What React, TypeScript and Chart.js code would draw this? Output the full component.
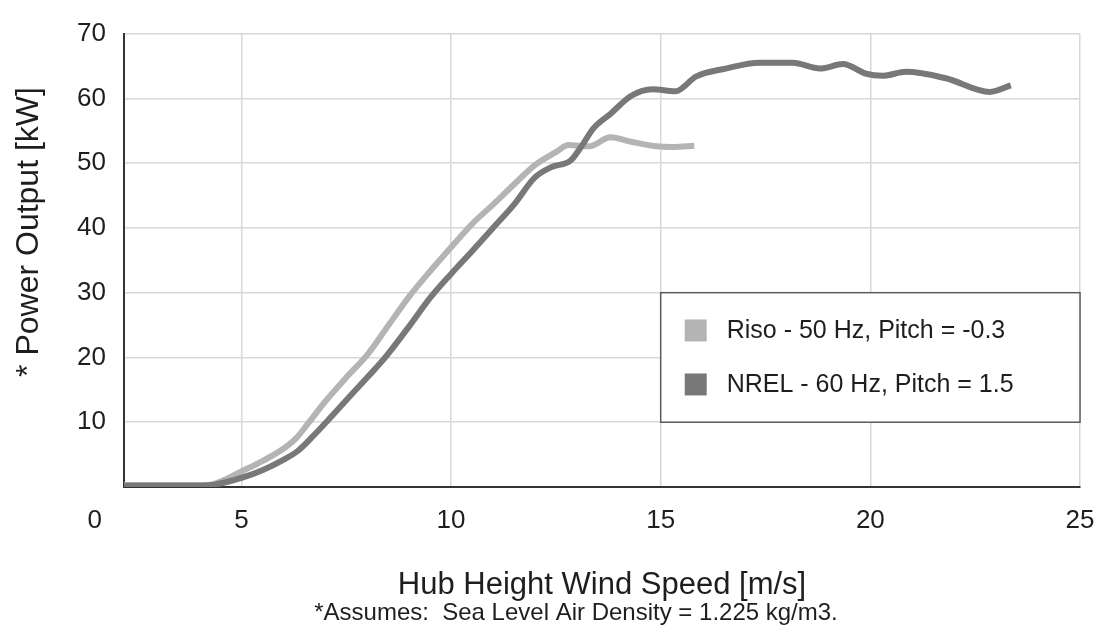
import React, { useEffect, useRef } from "react";
import { Chart, registerables } from "chart.js";

Chart.register(...registerables);

// ---- data ----
const risoSpeed = [2.2, 3.0, 4.0, 4.3, 4.6, 5.0, 5.5, 6.0, 6.3, 6.6, 7.0, 7.5, 8.0, 8.5, 9.0, 9.5, 10.0, 10.5, 11.0, 11.5, 12.0, 12.5, 12.8, 13.3, 13.8, 14.3, 14.9, 15.3, 15.8];
const risoPower = [0.3, 0.3, 0.3, 0.4, 1.1, 2.4, 4.0, 5.9, 7.5, 9.9, 13.2, 16.9, 20.4, 24.9, 29.4, 33.3, 37.0, 40.6, 43.6, 46.7, 49.7, 51.7, 52.8, 52.6, 54.0, 53.3, 52.6, 52.5, 52.7];

const nrelSpeed = [2.2, 3.0, 4.0, 4.3, 4.6, 5.0, 5.5, 6.0, 6.35, 6.7, 7.05, 7.5, 8.0, 8.43, 9.0, 9.5, 10.0, 10.5, 11.0, 11.5, 12.0, 12.4, 12.85, 13.1, 13.4, 13.8, 14.3, 14.8, 15.35, 15.85, 16.55, 17.35, 18.15, 18.8, 19.35, 19.9, 20.3, 20.85, 21.8, 22.85, 23.35];
const nrelPower = [0.2, 0.2, 0.2, 0.3, 0.7, 1.4, 2.6, 4.2, 5.6, 7.8, 10.2, 13.4, 16.9, 20.0, 24.8, 29.2, 32.9, 36.4, 40.0, 43.6, 47.8, 49.4, 50.4, 52.5, 55.4, 57.6, 60.4, 61.4, 61.1, 63.4, 64.6, 65.5, 65.5, 64.6, 65.3, 63.8, 63.5, 64.1, 63.1, 61.0, 62.0];

const seriesLabels = ["Riso - 50 Hz, Pitch = -0.3", "NREL - 60 Hz, Pitch = 1.5"];

// the "0" label sits left of the axis start in the original, so it has its own tick value
const xTickValues = [1.5, 5, 10, 15, 20, 25];
const xTickLabels = ["0", "5", "10", "15", "20", "25"];
const yTickValues = [0, 10, 20, 30, 40, 50, 60, 70];
const yTickLabels = ["", "10", "20", "30", "40", "50", "60", "70"];

const xTitle = "Hub Height Wind Speed [m/s]";
const yTitle = "* Power Output [kW]";
const footnoteText = "*Assumes:  Sea Level Air Density = 1.225 kg/m3.";

const FONT = '"Liberation Sans", Arial, Helvetica, sans-serif';
const TEXT = "#1e1e1e";
const LIGHT = "#b4b4b4";
const DARK = "#787878";
const GRID = "#d8d8d8";

const insideLegend = {
  id: "insideLegend",
  afterDatasetsDraw(chart: any, _args: any, opts: any) {
    const { ctx } = chart;
    const xs = chart.scales.x;
    const ys = chart.scales.y;
    const left = xs.getPixelForValue(opts.x0);
    const right = xs.getPixelForValue(opts.x1);
    const top = ys.getPixelForValue(opts.y1);
    const bottom = ys.getPixelForValue(opts.y0);
    ctx.save();
    ctx.fillStyle = "#ffffff";
    ctx.fillRect(left, top, right - left, bottom - top);
    ctx.strokeStyle = "#5a5a5a";
    ctx.lineWidth = 1.5;
    ctx.strokeRect(left, top, right - left, bottom - top);
    ctx.font = `25px ${FONT}`;
    ctx.textBaseline = "middle";
    ctx.textAlign = "left";
    const mid = (top + bottom) / 2;
    const n = chart.data.datasets.length;
    chart.data.datasets.forEach((ds: any, i: number) => {
      const cy = mid + (i - (n - 1) / 2) * 54;
      ctx.fillStyle = ds.borderColor;
      ctx.fillRect(left + 24, cy - 11, 22, 22);
      ctx.fillStyle = TEXT;
      ctx.fillText(ds.label, left + 66, cy + 1);
    });
    ctx.restore();
  },
};

const extraText = {
  id: "extraText",
  afterDraw(chart: any, _args: any, opts: any) {
    const { ctx } = chart;
    ctx.save();
    ctx.fillStyle = TEXT;
    ctx.textAlign = "center";
    ctx.textBaseline = "middle";
    // footnote
    ctx.font = `24px ${FONT}`;
    ctx.fillText(opts.footnote, opts.footX, opts.footY);
    // rotated y-axis title
    ctx.font = `32px ${FONT}`;
    ctx.translate(opts.yTitleX, opts.yTitleY);
    ctx.rotate(-Math.PI / 2);
    ctx.fillText(opts.yTitle, 0, 0);
    ctx.restore();
  },
};

export default function App() {
  const ref = useRef<HTMLCanvasElement | null>(null);

  useEffect(() => {
    if (!ref.current) return;
    const chart = new Chart(ref.current, {
      type: "line",
      data: {
        datasets: [
          {
            label: seriesLabels[0],
            data: risoSpeed.map((x, i) => ({ x, y: risoPower[i] })),
            borderColor: LIGHT,
            backgroundColor: LIGHT,
            borderWidth: 6,
            pointRadius: 0,
            cubicInterpolationMode: "monotone",
            borderJoinStyle: "round",
            order: 1,
          },
          {
            label: seriesLabels[1],
            data: nrelSpeed.map((x, i) => ({ x, y: nrelPower[i] })),
            borderColor: DARK,
            backgroundColor: DARK,
            borderWidth: 6,
            pointRadius: 0,
            cubicInterpolationMode: "monotone",
            borderJoinStyle: "round",
            order: 0,
          },
        ],
      },
      options: {
        responsive: false,
        animation: false,
        devicePixelRatio: 1,
        layout: { padding: { left: 0, top: 25, right: 27, bottom: 0 } },
        scales: {
          x: {
            type: "linear",
            min: 2.2,
            max: 25,
            afterBuildTicks: (s: any) => {
              s.ticks = xTickValues.map((v) => ({ value: v }));
            },
            afterFit: (s: any) => {
              s.height = 146;
              s.paddingLeft = 0;
              s.paddingRight = 0;
            },
            ticks: {
              autoSkip: false,
              maxRotation: 0,
              padding: 18,
              color: TEXT,
              font: { family: FONT, size: 26 },
              callback: (_v: any, i: number) => xTickLabels[i],
            },
            grid: {
              color: (c: any) => (c.index === 0 ? "rgba(0,0,0,0)" : GRID),
              lineWidth: 1.5,
              drawTicks: false,
            },
            border: { color: "#333333", width: 2 },
            title: {
              display: true,
              text: xTitle,
              color: TEXT,
              font: { family: FONT, size: 31 },
              padding: { top: 0, bottom: 29 },
            },
          },
          y: {
            type: "linear",
            min: 0,
            max: 70,
            afterBuildTicks: (s: any) => {
              s.ticks = yTickValues.map((v) => ({ value: v }));
            },
            afterFit: (s: any) => {
              s.width = 124;
            },
            ticks: {
              padding: 18,
              color: TEXT,
              font: { family: FONT, size: 26 },
              callback: (_v: any, i: number) => yTickLabels[i],
            },
            grid: { color: GRID, lineWidth: 1.5, drawTicks: false },
            border: { color: "#333333", width: 2 },
            title: { display: false },
          },
        },
        plugins: {
          legend: { display: false },
          tooltip: { enabled: false },
          insideLegend: { x0: 15, x1: 25, y0: 10, y1: 30 },
          extraText: {
            footnote: footnoteText,
            footX: 576,
            footY: 613,
            yTitle: yTitle,
            yTitleX: 29,
            yTitleY: 232,
          },
        } as any,
      },
      plugins: [insideLegend, extraText],
    } as any);
    return () => chart.destroy();
  }, []);

  return (
    <div style={{ position: "fixed", left: 0, top: 0, width: 1107, height: 633, background: "#fff" }}>
      <canvas ref={ref} width={1107} height={633} />
    </div>
  );
}
